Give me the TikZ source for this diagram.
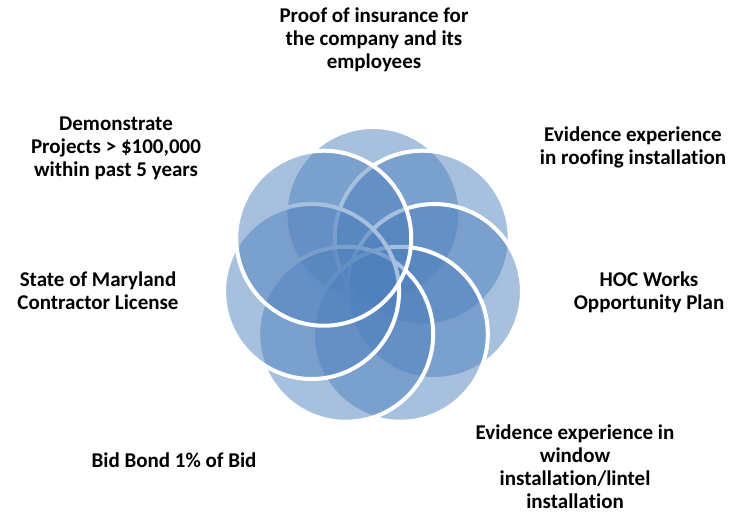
\documentclass[tikz,border=0pt]{standalone}
\usepackage{fontspec}
\setmainfont{Carlito}[Ligatures=NoCommon]
\usetikzlibrary{calc}
\definecolor{petalblue}{HTML}{4F81BD}
\tikzset{
  petal/.style={circle,minimum size=175pt,inner sep=0pt,fill=petalblue,
    fill opacity=0.5,draw=white,line width=4pt},
  req/.style={align=center,font=\bfseries\fontsize{21}{23}\selectfont,
    text=black,inner sep=0pt}
}
\begin{document}
\begin{tikzpicture}[x=1pt,y=1pt]
  \useasboundingbox (0,0) rectangle (733,-513);
  \coordinate (hub) at (373,-277.5);
  % petals, clockwise from the top
  \foreach \a [count=\i] in {90,38.57,-12.86,-64.29,-115.71,-167.14,141.43}
    \node[petal] (petal\i) at ($(hub)+(\a:63)$) {};
  % requirements
  \node[req] (insurance) at (374,-40) {Proof of insurance for\\the company and its\\employees};
  \node[req] (roofing) at (633,-147) {Evidence experience\\in roofing installation};
  \node[req] (hoc) at (649,-292) {HOC Works\\Opportunity Plan};
  \node[req] (window) at (575,-467) {Evidence experience in\\window\\installation/lintel\\installation};
  \node[req] (bidbond) at (174,-460) {Bid Bond 1\% of Bid};
  \node[req] (maryland) at (98,-291) {State of Maryland\\Contractor License};
  \node[req] (projects) at (116,-148) {Demonstrate\\Projects > \$100,000\\within past 5 years};
\end{tikzpicture}
\end{document}
